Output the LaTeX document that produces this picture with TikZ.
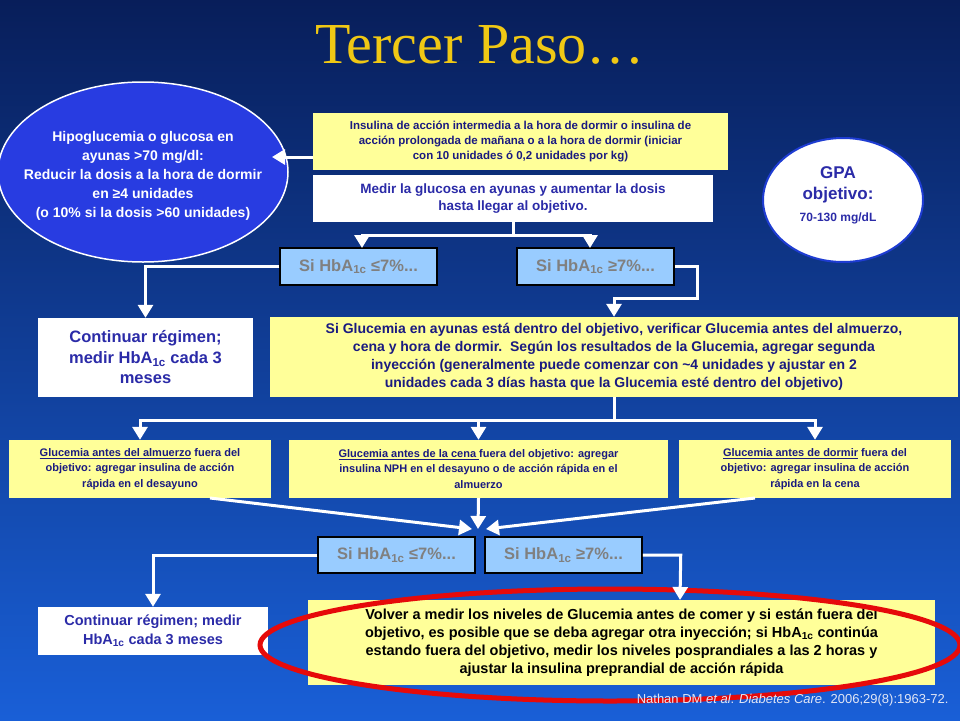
\documentclass[tikz,border=0pt]{standalone}
\usepackage{fontspec}
\setmainfont{Liberation Sans}
\newfontfamily\titlefont{Liberation Serif}
\usetikzlibrary{arrows.meta,shapes.geometric}
\definecolor{ylw}{HTML}{FFFF99}
\definecolor{hbf}{HTML}{99CCFF}
\definecolor{navy}{HTML}{1A1A80}
\definecolor{dkblue}{HTML}{2B2BA8}
\begin{document}
\begin{tikzpicture}[x=1pt,y=-1pt,
 yb/.style={draw=none,fill=ylw,align=center,font=\bfseries,inner sep=2pt},
 wb/.style={fill=white,align=center,font=\bfseries,text=dkblue,inner sep=2pt},
 hb/.style={fill=hbf,draw=black,line width=1.5pt,text=gray,font=\fontsize{16.5}{18}\selectfont\bfseries},
 con/.style={white,line width=3pt,-{Triangle[width=15pt,length=13pt]}},
 ln/.style={white,line width=3pt}]
\shade[top color={rgb,255:red,8;green,30;blue,90},bottom color={rgb,255:red,25;green,95;blue,215}] (0,0) rectangle (960,720);
\useasboundingbox (0,0) rectangle (960,720);
\node[text={rgb,255:red,240;green,200;blue,20},font=\titlefont\fontsize{58}{60}\selectfont] (title) at (480,45) {Tercer Paso…};
\node[ellipse,fill={rgb,255:red,40;green,60;blue,225},draw=white,line width=1.5pt,minimum width=290pt,minimum height=180pt,inner sep=0pt] (hypo) at (143,172) {};
\node[text=white,align=center,font=\fontsize{14}{19}\selectfont\bfseries] (hypot) at (143,176) {Hipoglucemia o glucosa en\\ayunas >70 mg/dl:\\Reducir la dosis a la hora de dormir\\en ≥4 unidades\\(o 10\% si la dosis >60 unidades)};
\node[yb,text=navy,minimum width=415pt,minimum height=57pt,font=\fontsize{11.5}{15}\selectfont\bfseries] (ins) at (520.5,141.5) {Insulina de acción intermedia a la hora de dormir o insulina de\\acción prolongada de mañana o a la hora de dormir (iniciar\\con 10 unidades ó 0,2 unidades por kg)};
\node[wb,minimum width=400pt,minimum height=47pt,font=\fontsize{13.5}{17.5}\selectfont\bfseries] (med) at (513,198.5) {Medir la glucosa en ayunas y aumentar la dosis\\hasta llegar al objetivo.};
\node[ellipse,fill=white,draw={rgb,255:red,30;green,60;blue,210},line width=2pt,minimum width=160pt,minimum height=124pt] (gpa) at (843,200) {};
\node[text=dkblue,align=center,font=\fontsize{17}{21}\selectfont\bfseries] (gpat) at (838,185) {GPA\\objetivo:};
\node[text=dkblue,font=\fontsize{12}{14}\selectfont\bfseries] (gpav) at (838,218) {70-130 mg/dL};
\node[hb,minimum width=157pt,minimum height=37pt] (h1) at (358.5,266.5) {Si HbA\textsubscript{1c} ≤7\%...};
\node[hb,minimum width=157pt,minimum height=37pt] (h2) at (595.5,266.5) {Si HbA\textsubscript{1c} ≥7\%...};
\node[wb,minimum width=215pt,minimum height=79pt,font=\fontsize{16.5}{20.5}\selectfont\bfseries] (c1) at (145.5,357.5) {Continuar régimen;\\medir HbA\textsubscript{1c} cada 3\\meses};
\node[yb,text=navy,minimum width=688pt,minimum height=80pt,font=\fontsize{14}{18}\selectfont\bfseries] (big) at (614,357) {Si Glucemia en ayunas está dentro del objetivo, verificar Glucemia antes del almuerzo,\\cena y hora de dormir.\ \ Según los resultados de la Glucemia, agregar segunda\\inyección (generalmente puede comenzar con \textasciitilde4 unidades y ajustar en 2\\unidades cada 3 días hasta que la Glucemia esté dentro del objetivo)};
\tikzset{sm/.style={yb,text=navy,minimum height=58pt,font=\fontsize{11}{15.5}\selectfont\bfseries}}
\node[sm,minimum width=262pt] (g1) at (140,469) {\underline{Glucemia antes del almuerzo} fuera del\\objetivo: agregar insulina de acción\\rápida en el desayuno};
\node[sm,minimum width=379pt] (g2) at (478.5,469) {\underline{Glucemia antes de la cena }fuera del objetivo: agregar\\insulina NPH en el desayuno o de acción rápida en el\\almuerzo};
\node[sm,minimum width=272pt] (g3) at (815,469) {\underline{Glucemia antes de dormir} fuera del\\objetivo: agregar insulina de acción\\rápida en la cena};
\node[hb,minimum width=157pt,minimum height=36pt] (h3) at (396.5,555) {Si HbA\textsubscript{1c} ≤7\%...};
\node[hb,minimum width=157pt,minimum height=36pt] (h4) at (563.5,555) {Si HbA\textsubscript{1c} ≥7\%...};
\node[wb,minimum width=230pt,minimum height=48pt,font=\fontsize{14.5}{18.5}\selectfont\bfseries] (c2) at (153,631) {Continuar régimen; medir\\HbA\textsubscript{1c} cada 3 meses};
\node[yb,text=black,minimum width=627pt,minimum height=85pt,font=\fontsize{14.5}{18}\selectfont\bfseries] (fin) at (621.5,642.5) {Volver a medir los niveles de Glucemia antes de comer y si están fuera del\\objetivo, es posible que se deba agregar otra inyección; si HbA\textsubscript{1c} continúa\\estando fuera del objetivo, medir los niveles posprandiales a las 2 horas y\\ajustar la insulina preprandial de acción rápida};
\node[ellipse,draw={rgb,255:red,230;green,10;blue,10},line width=5pt,minimum width=700pt,minimum height=112pt] (red) at (610,645) {};
\node[anchor=east,text={rgb,255:red,225;green,230;blue,245},font=\fontsize{13}{15}\selectfont] (cite) at (952,700) {Nathan DM \textit{et al}. \textit{Diabetes Care}. 2006;29(8):1963-72.};
% connectors
\coordinate (insl) at (313,157);
\coordinate (hypr) at (272,157);
\draw[con] (insl) -- (hypr);
\draw[ln] (med.south) -- ++(0,13) coordinate (mj);
\coordinate (a1) at (362,248);
\coordinate (a2) at (590,248);
\draw[con] (mj) -| (a1);
\draw[con] (mj) -| (a2);
\draw[con] (h1.west) -| (c1.north);
\draw[con] (h2.east) -- ++(23,0) -- ++(0,32) -| (big.north);
\draw[ln] (big.south) -- ++(0,23) coordinate (bj);
\draw[con] (bj) -| (g1.north);
\draw[con] (bj) -| (g2.north);
\draw[con] (bj) -| (g3.north);
\coordinate (m1) at (472,529);
\coordinate (m2) at (486,529);
\draw[con] (210,498) -- (m1);
\draw[con] (g2.south) -- (478,529);
\draw[con] (755,498) -- (m2);
\draw[con] (h3.west) -| (c2.north);
\draw[con] (h4.east) -- ++(38,0) -- (680,600);
\end{tikzpicture}
\end{document}
